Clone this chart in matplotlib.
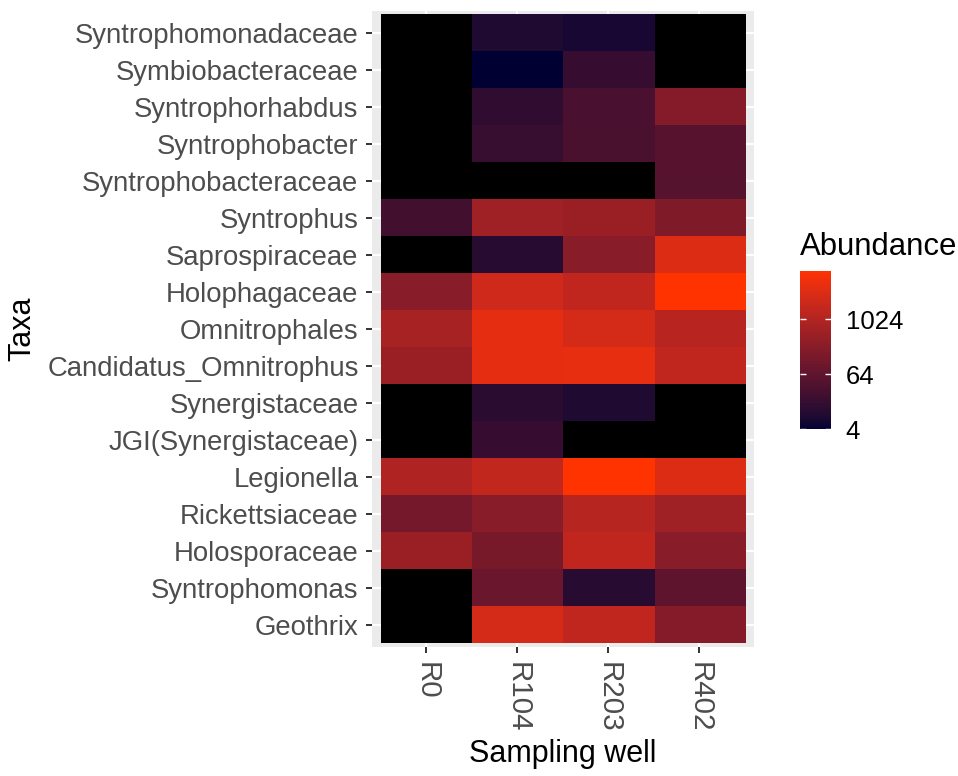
import numpy as np
import matplotlib
matplotlib.use('Agg')
import matplotlib.pyplot as plt
from matplotlib.colors import ListedColormap, LogNorm, to_rgb

plt.rcParams['font.family'] = ['Liberation Sans', 'DejaVu Sans']

# Data (NaN = absent -> black)
taxa = ['Syntrophomonadaceae', 'Symbiobacteraceae', 'Syntrophorhabdus',
        'Syntrophobacter', 'Syntrophobacteraceae', 'Syntrophus',
        'Saprospiraceae', 'Holophagaceae', 'Omnitrophales',
        'Candidatus_Omnitrophus', 'Synergistaceae', 'JGI(Synergistaceae)',
        'Legionella', 'Rickettsiaceae', 'Holosporaceae', 'Syntrophomonas',
        'Geothrix']
wells = ['R0', 'R104', 'R203', 'R402']
nan = np.nan
r0 = [nan, nan, nan, nan, nan, 24, nan, 256, 730, 470, nan, nan, 930, 134, 470, nan, nan]
r104 = [8, 4, 13, 17, nan, 560, 10, 2500, 5400, 5400, 11, 16, 1750, 256, 153, 95, 3040]
r203 = [6.5, 16, 30, 32, nan, 470, 256, 1640, 3040, 5600, 8, nan, 11800, 1230, 1640, 10, 1640]
r402 = [nan, nan, 232, 50, 48, 191, 4150, 11500, 1280, 1640, nan, nan, 4200, 560, 256, 64, 232]
cbar_ticks = [4, 64, 1024]

# ggplot-like gradient (interpolated in Lab space)
def srgb_to_lab(c):
    c = np.asarray(c, float)
    lin = np.where(c <= 0.04045, c / 12.92, ((c + 0.055) / 1.055) ** 2.4)
    M = np.array([[0.4124, 0.3576, 0.1805],
                  [0.2126, 0.7152, 0.0722],
                  [0.0193, 0.1192, 0.9505]])
    xyz = M @ lin / np.array([0.95047, 1.0, 1.08883])
    f = np.where(xyz > 0.008856, np.cbrt(xyz), 7.787 * xyz + 16 / 116)
    return np.array([116 * f[1] - 16, 500 * (f[0] - f[1]), 200 * (f[1] - f[2])])

def lab_to_srgb(lab):
    L, a, b = lab
    fy = (L + 16) / 116
    fx = fy + a / 500
    fz = fy - b / 200
    f = np.array([fx, fy, fz])
    xyz = np.where(f ** 3 > 0.008856, f ** 3, (f - 16 / 116) / 7.787)
    xyz = xyz * np.array([0.95047, 1.0, 1.08883])
    Minv = np.array([[3.2406, -1.5372, -0.4986],
                     [-0.9689, 1.8758, 0.0415],
                     [0.0557, -0.2040, 1.0570]])
    lin = Minv @ xyz
    lin = np.clip(lin, 0, 1)
    c = np.where(lin <= 0.0031308, 12.92 * lin, 1.055 * lin ** (1 / 2.4) - 0.055)
    return np.clip(c, 0, 1)

lo = srgb_to_lab(to_rgb('#000033'))
hi = srgb_to_lab(to_rgb('#FF3300'))
cols = [lab_to_srgb(lo + (hi - lo) * t) for t in np.linspace(0, 1, 256)]
cmap = ListedColormap(cols)
cmap.set_bad('black')

Z = np.ma.masked_invalid(np.column_stack([r0, r104, r203, r402]))
norm = LogNorm(vmin=4, vmax=11800)

W, H = 958, 776
fig = plt.figure(figsize=(W / 100, H / 100), dpi=100)
ax = fig.add_axes([371.7 / W, 1 - 647 / H, (754 - 371.7) / W, (647 - 11.3) / H])
ax.set_facecolor('#EBEBEB')
im = ax.imshow(Z, cmap=cmap, norm=norm, aspect='auto', interpolation='nearest',
               extent=(-0.5, len(wells) - 0.5, len(taxa) - 0.5, -0.5), zorder=2)
ax.set_xlim(-0.6, len(wells) - 0.4)
ax.set_ylim(len(taxa) - 0.4, -0.6)
ax.set_xticks(range(len(wells)))
ax.set_xticklabels(wells, rotation=-90, ha='center', va='top')
ax.set_yticks(range(len(taxa)))
ax.set_yticklabels(taxa)
ax.grid(True, color='white', linewidth=1.6, zorder=1)
ax.set_axisbelow(True)
for s in ax.spines.values():
    s.set_visible(False)
ax.tick_params(length=4.5, width=1.4, color='#333333', labelcolor='#4D4D4D',
               pad=5)
ax.tick_params(axis='y', labelsize=19.8)
ax.tick_params(axis='x', labelsize=21.3, pad=6)

fig.text(563 / W, 1 - 762 / H, 'Sampling well', ha='center', va='baseline',
         fontsize=22)
fig.text(22.5 / W, 1 - 329 / H, 'Taxa', rotation=90, ha='center', va='center',
         fontsize=22)

# colour bar legend
cax = fig.add_axes([800 / W, 1 - 429.3 / H, 31 / W, 158.6 / H])
cb = fig.colorbar(im, cax=cax)
cb.outline.set_visible(False)
cb.set_ticks(cbar_ticks)
cb.set_ticklabels([str(t) for t in cbar_ticks])
cax.minorticks_off()
cax.tick_params(which='both', left=True, right=True, labelleft=False,
                labelright=True, direction='in', length=4.5, width=1,
                color='white', labelcolor='black', labelsize=18.5, pad=10.5)
fig.text(800 / W, 1 - 255 / H, 'Abundance', ha='left', va='baseline',
         fontsize=22.4)

fig.savefig('out.png', dpi=100)
